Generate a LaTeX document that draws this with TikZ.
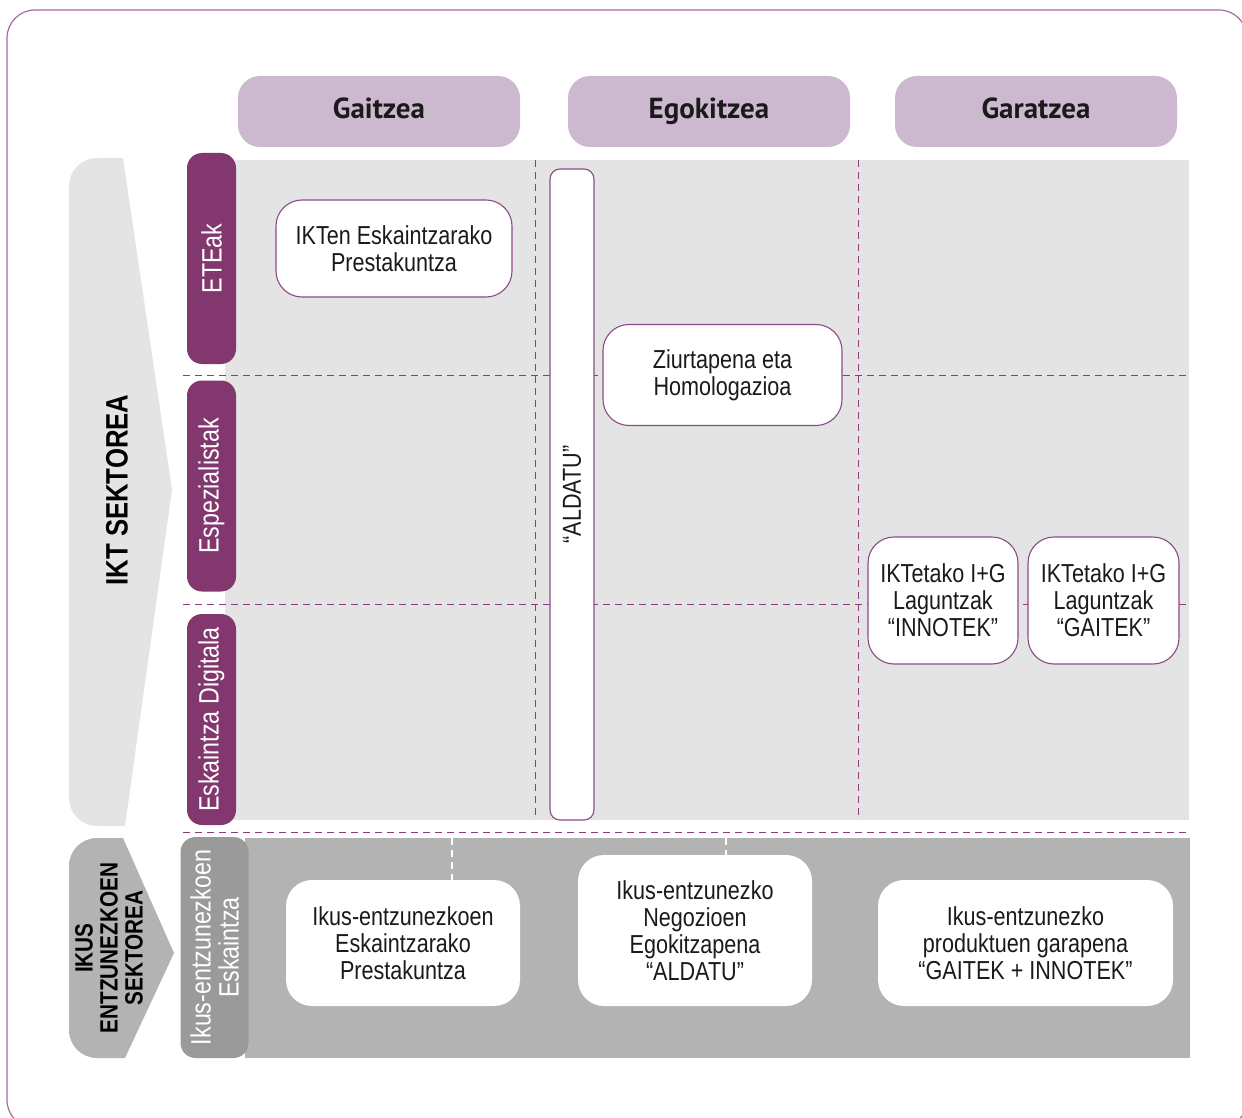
\documentclass[tikz,border=0pt]{standalone}
\usepackage{fontspec}
\newfontfamily\nar{Liberation Sans}[FakeStretch=0.83]
\newfontfamily\hdr{PT Sans}
\definecolor{purp}{HTML}{82386E}
\definecolor{lav}{HTML}{CDB9CF}
\definecolor{lgrey}{HTML}{E4E4E4}
\definecolor{mgrey}{HTML}{B3B3B3}
\definecolor{dgrey}{HTML}{9A9A9A}
\definecolor{bord}{HTML}{8E4A84}
\definecolor{framec}{HTML}{A56A9E}
\definecolor{dashc}{HTML}{8B3C7E}
\definecolor{txt}{HTML}{1A1A1A}
\tikzset{
  hdrbox/.style={fill=lav, rounded corners=22pt, minimum width=282pt, minimum height=71pt, inner sep=0pt,
    font=\hdr\bfseries\fontsize{29}{30}\selectfont, text=txt, text height=21pt, text depth=6pt},
  lab/.style={rotate=90, fill=purp, rounded corners=15pt, minimum height=49pt, inner sep=0pt,
    font=\nar\fontsize{28}{28}\selectfont, text=white},
  wbox/.style={fill=white, draw=bord, line width=1.1pt, rounded corners=26pt, inner sep=0pt,
    font=\nar\fontsize{26}{27}\selectfont, text=txt, align=center},
  gbox/.style={fill=white, rounded corners=26pt, inner sep=0pt,
    font=\nar\fontsize{26}{27}\selectfont, text=txt, align=center},
  dsh/.style={draw=dashc, line width=0.9pt, dash pattern=on 7pt off 5pt},
  wdsh/.style={draw=white, line width=1.2pt, dash pattern=on 7pt off 5pt},
}
\begin{document}
\begin{tikzpicture}[x=1pt,y=-1pt]
\useasboundingbox (0,0) rectangle (1242,1118);
\begin{scope}
\clip (0,0) rectangle (1242,1118);
\draw[framec, line width=1.2pt, rounded corners=28pt] (7,10) rectangle (1247,1128);
\end{scope}

% IKT arrow
\fill[lgrey] (123,158) -- (172,490) -- (125,826) -- (97,826)
  .. controls (81.5,826) and (69,813.5) .. (69,798) -- (69,186)
  .. controls (69,170.5) and (81.5,158) .. (97,158) -- cycle;
\node[rotate=90, font=\nar\bfseries\fontsize{31}{31}\selectfont, text=black] (ikt) at (117,490) {IKT SEKTOREA};

% IKUS arrow
\fill[mgrey] (123,838) -- (174,953) -- (125,1058) -- (97,1058)
  .. controls (81.5,1058) and (69,1045.5) .. (69,1030) -- (69,866)
  .. controls (69,850.5) and (81.5,838) .. (97,838) -- cycle;
\node[rotate=90, align=center, font=\nar\bfseries\fontsize{25}{25}\selectfont, text=black] (ikus) at (109,948) {IKUS\\ENTZUNEZKOEN\\SEKTOREA};

% headers
\node[hdrbox] (h1) at (379,111.5) {Gaitzea};
\node[hdrbox] (h2) at (709,111.5) {Egokitzea};
\node[hdrbox] (h3) at (1036,111.5) {Garatzea};

% main panel
\fill[lgrey] (225,160) rectangle (1189,820);
\draw[dsh] (183,375) -- (1189,375);
\draw[dsh] (183,604) -- (1189,604);
\draw[dsh] (183,832) -- (1189,832);
\draw[dsh] (535,160) -- (535,820);
\draw[dsh] (858,160) -- (858,820);

% row labels
\node[lab, minimum width=211pt] (l1) at (211.5,258.5) {ETEak};
\node[lab, minimum width=211pt] (l2) at (211.5,486) {Espezialistak};
\node[lab, minimum width=211pt] (l3) at (211.5,719.5) {Eskaintza Digitala};

% ALDATU column
\node[wbox, rotate=90, rounded corners=10pt, minimum width=651pt, minimum height=44pt] (ald) at (572,494.5) {“ALDATU”};

% boxes
\node[wbox, minimum width=236pt, minimum height=97pt] (b1) at (394,248.5) {IKTen Eskaintzarako\\Prestakuntza};
\node[wbox, minimum width=239pt, minimum height=101pt] (b2) at (722.5,375) {Ziurtapena eta\\Homologazioa};
\node[wbox, minimum width=150pt, minimum height=127pt] (b3) at (943,600.5) {IKTetako I+G\\Laguntzak\\“INNOTEK”};
\node[wbox, minimum width=151pt, minimum height=127pt] (b4) at (1103.5,600.5) {IKTetako I+G\\Laguntzak\\“GAITEK”};

% lower panel
\fill[mgrey] (245,838) rectangle (1190,1058);
\draw[wdsh] (452,838) -- (452,880);
\draw[wdsh] (726,838) -- (726,855);
\node[rotate=90, fill=dgrey, rounded corners=15pt, minimum width=221pt, minimum height=68pt, inner sep=0pt,
  align=center, font=\nar\fontsize{28}{28}\selectfont, text=white] (l4) at (214.5,947.5) {Ikus-entzunezkoen\\Eskaintza};

\node[gbox, minimum width=234pt, minimum height=126pt] (c1) at (403,943) {Ikus-entzunezkoen\\Eskaintzarako\\Prestakuntza};
\node[gbox, minimum width=234pt, minimum height=151pt] (c2) at (695,930.5) {Ikus-entzunezko\\Negozioen\\Egokitzapena\\“ALDATU”};
\node[gbox, minimum width=295pt, minimum height=126pt] (c3) at (1025.5,943) {Ikus-entzunezko\\produktuen garapena\\“GAITEK + INNOTEK”};
\end{tikzpicture}
\end{document}
